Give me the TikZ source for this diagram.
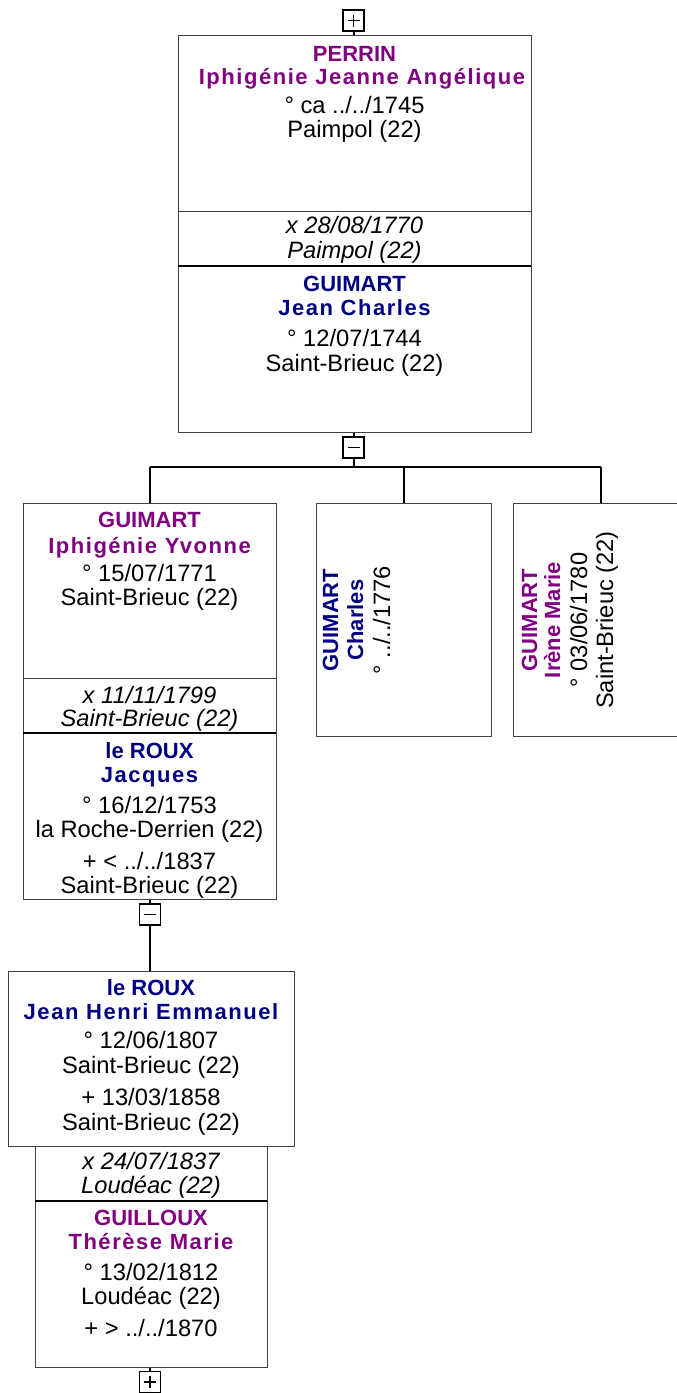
\documentclass[tikz,border=0pt]{standalone}
\usepackage{fontspec}
\setmainfont{Liberation Sans}
\newfontfamily\spaced[LetterSpace=7]{Liberation Sans}
\definecolor{fem}{RGB}{128,0,128}
\definecolor{mal}{RGB}{0,0,128}
\newcommand\nmfont{\fontsize{22}{25}\selectfont\bfseries}
\newcommand\gnfont{\fontsize{22}{25}\selectfont\spaced\bfseries}
\newcommand\txfont{\fontsize{23.7}{25}\selectfont}
\newcommand\mrfont{\fontsize{23.7}{25}\selectfont\itshape}
\tikzset{
  boxframe/.style={draw=black!75, line width=1pt, inner sep=0pt, minimum width=#1},
  conn/.style={line width=2pt, black},
  thinsep/.style={line width=1pt, black!75},
  thicksep/.style={line width=2pt, black},
  tog/.style={draw=black, line width=1.5pt, minimum width=21pt, minimum height=21pt, inner sep=0pt, fill=white},
  plussign/.style={tog, path picture={
     \draw[line width=1.4pt] ([xshift=-6pt]path picture bounding box.center) -- ([xshift=6pt]path picture bounding box.center);
     \draw[line width=1.4pt] ([yshift=-6pt]path picture bounding box.center) -- ([yshift=6pt]path picture bounding box.center);}},
  minussign/.style={tog, path picture={
     \draw[line width=1.4pt] ([xshift=-6pt]path picture bounding box.center) -- ([xshift=6pt]path picture bounding box.center);}},
  nm/.style={anchor=base, inner sep=0pt, font=\nmfont},
  gn/.style={anchor=base, inner sep=0pt, font=\gnfont},
  tx/.style={anchor=base, inner sep=0pt, font=\txfont},
  mr/.style={anchor=base, inner sep=0pt, font=\mrfont},
  rnm/.style={nm, rotate=90},
  rtx/.style={tx, rotate=90},
}
\begin{document}
\begin{tikzpicture}[x=1pt,y=-1pt]
\path[use as bounding box, clip] (0,0) rectangle (677,1393);
\fill[white] (0,0) rectangle (677,1393);

% top couple box
\node[boxframe=353pt, minimum height=397pt] (top) at (354.5,233.5) {};
\draw[thinsep] (178,211) -- (531,211);
\draw[thicksep] (178,266) -- (531,266);
\node[plussign] (tplus) at (353.5,20.5) {};
\draw[conn] (tplus.south) -- (tplus.south |- top.north);
\node[nm, fem] (t1) at (354.5,61) {PERRIN};
\node[gn, fem] (t2) at (362,84) {Iphigénie Jeanne Angélique};
\node[tx] (t3) at (354.5,113) {° ca ../../1745};
\node[tx] (t4) at (354.5,137) {Paimpol (22)};
\node[mr] (t5) at (354.5,233) {x 28/08/1770};
\node[mr] (t6) at (354.5,258) {Paimpol (22)};
\node[nm, mal] (t7) at (354.5,291) {GUIMART};
\node[gn, mal] (t8) at (354.5,315) {Jean Charles};
\node[tx] (t9) at (354.5,346) {° 12/07/1744};
\node[tx] (t10) at (354.5,371) {Saint-Brieuc (22)};

% children connectors
\node[minussign] (tminus) at (353.5,447.5) {};
\coordinate (bar) at (353.5,467);
\node[boxframe=253pt, minimum height=396pt] (c1) at (149.5,701) {};
\node[boxframe=175pt, minimum height=233pt] (c2) at (403.5,619.5) {};
\node[boxframe=175pt, minimum height=233pt] (c3) at (600.5,619.5) {};
\draw[conn] (tminus.north |- top.south) -- (tminus.north);
\draw[conn] (tminus.south) -- (bar);
\draw[conn] (bar -| c1.north) -- (bar -| c3.north);
\draw[conn] (bar -| c1.north) -- (c1.north);
\draw[conn] (bar -| c2.north) -- (c2.north);
\draw[conn] (bar -| c3.north) -- (c3.north);

% child 1
\draw[thinsep] (23,678) -- (276,678);
\draw[thicksep] (23,733) -- (276,733);
\node[nm, fem] at (149.5,527) {GUIMART};
\node[gn, fem] at (149.5,553) {Iphigénie Yvonne};
\node[tx] at (149.5,581) {° 15/07/1771};
\node[tx] at (149.5,605) {Saint-Brieuc (22)};
\node[mr] at (149.5,703) {x 11/11/1799};
\node[mr] at (149.5,726) {Saint-Brieuc (22)};
\node[nm, mal] at (149.5,758) {le ROUX};
\node[gn, mal] at (149.5,782) {Jacques};
\node[tx] at (149.5,813) {° 16/12/1753};
\node[tx] at (149.5,837) {la Roche-Derrien (22)};
\node[tx] at (149.5,869) {+ < ../../1837};
\node[tx] at (149.5,893) {Saint-Brieuc (22)};

% child 2 (rotated)
\node[rnm, mal] at (338,620) {GUIMART};
\node[rnm, mal] at (363,620) {Charles};
\node[rtx] at (390,620) {° ../../1776};

% child 3 (rotated)
\node[rnm, fem] at (537,620) {GUIMART};
\node[rnm, fem] at (560,620) {Irène Marie};
\node[rtx] at (587,620) {° 03/06/1780};
\node[rtx] at (613,620) {Saint-Brieuc (22)};

% grandchild
\node[minussign] (c1minus) at (150,914.5) {};
\node[boxframe=286pt, minimum height=175pt] (g1) at (151,1058.5) {};
\node[boxframe=232pt, minimum height=221pt] (g2) at (151,1256.5) {};
\draw[conn] (c1minus.north |- c1.south) -- (c1minus.north);
\draw[conn] (c1minus.south) -- (c1minus.south |- g1.north);
\draw[thicksep] (35,1201) -- (267,1201);
\node[nm, mal] at (151,995) {le ROUX};
\node[gn, mal] at (151,1019) {Jean Henri Emmanuel};
\node[tx] at (151,1048) {° 12/06/1807};
\node[tx] at (151,1073) {Saint-Brieuc (22)};
\node[tx] at (151,1105) {+ 13/03/1858};
\node[tx] at (151,1130) {Saint-Brieuc (22)};
\node[mr] at (151,1169) {x 24/07/1837};
\node[mr] at (151,1193) {Loudéac (22)};
\node[nm, fem] at (151,1225) {GUILLOUX};
\node[gn, fem] at (151,1249) {Thérèse Marie};
\node[tx] at (151,1280) {° 13/02/1812};
\node[tx] at (151,1304) {Loudéac (22)};
\node[tx] at (151,1336) {+ > ../../1870};
\node[plussign] (bplus) at (150,1382) {};
\draw[conn] (bplus.north |- g2.south) -- (bplus.north);
\end{tikzpicture}
\end{document}
